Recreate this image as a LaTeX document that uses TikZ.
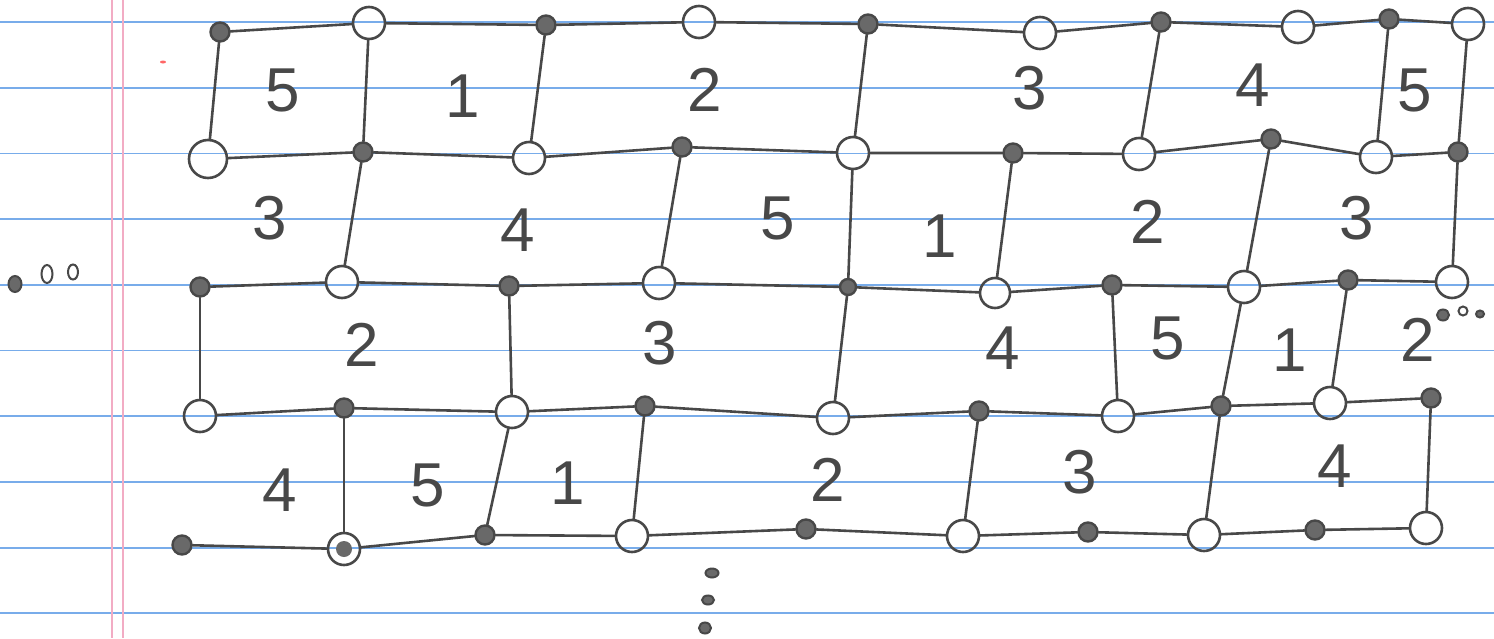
\documentclass[tikz,border=0pt]{standalone}
\usepackage{fontspec}
\usetikzlibrary{shapes.geometric}
\newfontfamily\hand{Liberation Sans}
\definecolor{ink}{RGB}{72,72,72}
\definecolor{inkfill}{RGB}{105,105,105}
\definecolor{rulecol}{RGB}{120,172,234}
\definecolor{margincol}{RGB}{242,172,196}
\begin{document}
\begin{tikzpicture}[x=1pt,y=-1pt,
  opn/.style={circle,draw=ink,line width=2.6pt,minimum size=32pt,inner sep=0pt},
  dk/.style={circle,draw=ink,line width=2.4pt,fill=inkfill,minimum size=19pt,inner sep=0pt},
  both/.style={opn,path picture={\fill[inkfill] (path picture bounding box.center) circle (8pt);}},
  edge/.style={draw=ink,line width=2.6pt,line cap=round},
  num/.style={font=\hand\fontsize{62}{62}\selectfont,text=ink,inner sep=0pt},
  dotO/.style={ellipse,draw=ink,line width=2pt,inner sep=0pt},
  dotF/.style={ellipse,draw=ink,fill=inkfill,line width=2pt,inner sep=0pt}]
% paper
\path[use as bounding box,fill=white] (0,0) rectangle (1494,638);
\foreach \k in {0,...,9}{
  \draw[rulecol,line width=1.8pt] (0,{22+65.7*\k}) -- (1494,{22+65.7*\k});
}
\draw[margincol,line width=2pt] (112,0) -- (112,638);
\draw[margincol,line width=2pt] (123,0) -- (123,638);
\fill[red!60] (163,62) ellipse (3pt and 1.5pt);
% row 0
\node[dk]  (a0) at (220,32) {};
\node[opn] (a1) at (369,23) {};
\node[dk]  (a2) at (546,25) {};
\node[opn] (a3) at (699,22) {};
\node[dk]  (a4) at (868,24) {};
\node[opn] (a5) at (1040,33) {};
\node[dk]  (a6) at (1161,22) {};
\node[opn] (a7) at (1298,27) {};
\node[dk]  (a8) at (1389,19) {};
\node[opn] (a9) at (1468,24) {};
% row 1
\node[opn,minimum size=38pt] (b0) at (208,159) {};
\node[dk]  (b1) at (363,152) {};
\node[opn] (b2) at (529,158) {};
\node[dk]  (b3) at (682,147) {};
\node[opn] (b4) at (853,153) {};
\node[dk]  (b5) at (1013,153) {};
\node[opn] (b6) at (1139,154) {};
\node[dk]  (b7) at (1271,139) {};
\node[opn] (b8) at (1376,157) {};
\node[dk]  (b9) at (1458,152) {};
% row 2
\node[dk]  (c0) at (200,287) {};
\node[opn] (c1) at (342,282) {};
\node[dk]  (c2) at (509,286) {};
\node[opn] (c3) at (659,283) {};
\node[dk,minimum size=16pt]  (c4) at (848,287) {};
\node[opn,minimum size=30pt] (c5) at (995,293) {};
\node[dk]  (c6) at (1112,285) {};
\node[opn] (c7) at (1244,287) {};
\node[dk]  (c8) at (1348,280) {};
\node[opn] (c9) at (1452,282) {};
% row 3
\node[opn] (d0) at (200,416) {};
\node[dk]  (d1) at (344,408) {};
\node[opn] (d2) at (512,412) {};
\node[dk]  (d3) at (645,406) {};
\node[opn] (d4) at (833,418) {};
\node[dk]  (d5) at (979,411) {};
\node[opn] (d6) at (1118,416) {};
\node[dk]  (d7) at (1221,406) {};
\node[opn] (d8) at (1330,403) {};
\node[dk]  (d9) at (1431,398) {};
% row 4
\node[dk]   (e0) at (182,545) {};
\node[both] (e1) at (344,549) {};
\node[dk]   (e2) at (485,535) {};
\node[opn]  (e3) at (632,536) {};
\node[dk]   (e4) at (806,529) {};
\node[opn]  (e5) at (963,536) {};
\node[dk]   (e6) at (1088,532) {};
\node[opn]  (e7) at (1204,535) {};
\node[dk]   (e8) at (1315,530) {};
\node[opn]  (e9) at (1426,528) {};
% horizontal edges
\foreach \r in {a,b,c,d,e}{
  \draw[edge] (\r0) -- (\r1) -- (\r2) -- (\r3) -- (\r4) -- (\r5) -- (\r6) -- (\r7) -- (\r8) -- (\r9);
}
% vertical edges
\foreach \i in {0,1,2,4,6,8,9}{ \draw[edge] (a\i) -- (b\i); }
\foreach \i in {1,3,4,5,7,9}{ \draw[edge] (b\i) -- (c\i); }
\foreach \i in {0,2,4,6,7,8}{ \draw[edge] (c\i) -- (d\i); }
\foreach \i in {1,2,3,5,7,9}{ \draw[edge] (d\i) -- (e\i); }
% face labels
\node[num] (l01) at (283,90) {5};
\node[num] (l02) at (463,96) {1};
\node[num] (l03) at (705,90) {2};
\node[num] (l04) at (1030,88) {3};
\node[num] (l05) at (1253,85) {4};
\node[num] (l06) at (1415,90) {5};
\node[num] (l11) at (270,218) {3};
\node[num] (l12) at (518,230) {4};
\node[num] (l13) at (778,218) {5};
\node[num] (l14) at (940,236) {1};
\node[num] (l15) at (1148,222) {2};
\node[num] (l16) at (1357,218) {3};
\node[num] (l21) at (362,345) {2};
\node[num] (l22) at (660,343) {3};
\node[num] (l23) at (1003,348) {4};
\node[num] (l24) at (1168,338) {5};
\node[num] (l25) at (1290,350) {1};
\node[num] (l26) at (1418,340) {2};
\node[num] (l31) at (280,490) {4};
\node[num] (l32) at (428,485) {5};
\node[num] (l33) at (568,483) {1};
\node[num] (l34) at (828,480) {2};
\node[num] (l35) at (1080,472) {3};
\node[num] (l36) at (1335,466) {4};
% ellipsis dots
\node[dotF,minimum width=13pt,minimum height=16pt] (p1) at (15,284) {};
\node[dotO,minimum width=11pt,minimum height=18pt] (p2) at (47,274) {};
\node[dotO,minimum width=10pt,minimum height=15pt] (p3) at (73,272) {};
\node[dotF,minimum width=12pt,minimum height=11pt] (q1) at (1443,315) {};
\node[dotO,minimum width=9pt,minimum height=9pt] (q2) at (1463,311) {};
\node[dotF,minimum width=8pt,minimum height=7pt] (q3) at (1480,314) {};
\node[dotF,minimum width=13pt,minimum height=9pt] (s1) at (712,573) {};
\node[dotF,minimum width=12pt,minimum height=9pt] (s2) at (708,600) {};
\node[dotF,minimum width=12pt,minimum height=11pt] (s3) at (705,628) {};
\end{tikzpicture}
\end{document}
